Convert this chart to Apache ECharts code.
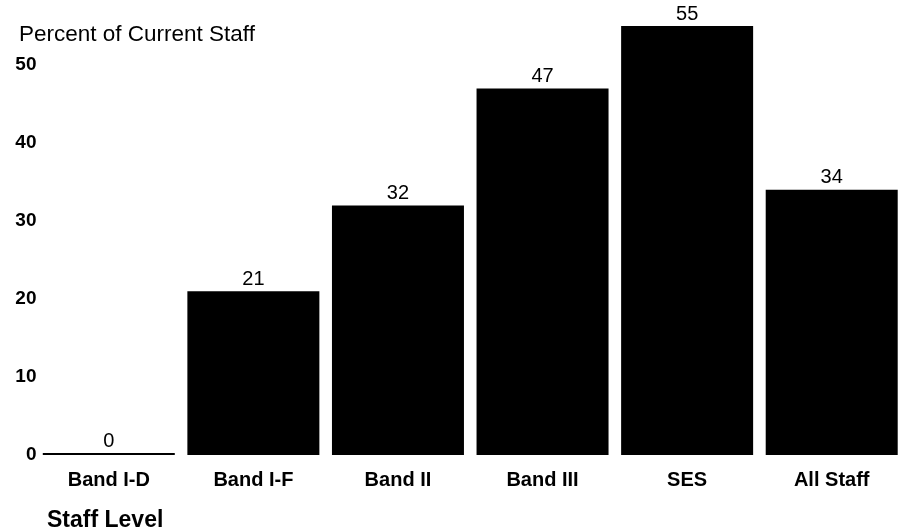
<!DOCTYPE html>
<html>
<head>
<meta charset="utf-8">
<script src="https://cdn.jsdelivr.net/npm/echarts@6/dist/echarts.min.js"></script>
<style>
  html, body { margin: 0; padding: 0; background: #fff; }
  #chart { width: 904px; height: 531px; }
</style>
</head>
<body>
<div id="chart"></div>
<script>
// 数据
const categories = ['Band I-D', 'Band I-F', 'Band II', 'Band III', 'SES', 'All Staff'];
const values = [0, 21, 32, 47, 55, 34];
const yTicks = [0, 10, 20, 30, 40, 50];

const chart = echarts.init(document.getElementById('chart'));
const font = 'Arial, "Liberation Sans", sans-serif';

const option = {
  animation: false,
  title: [
    {
      // y轴标题
      text: 'Percent of Current Staff',
      left: 14,
      top: 18,
      textStyle: { fontFamily: font, fontSize: 22.5, fontWeight: 'normal', color: '#000' }
    },
    {
      // x轴标题
      text: 'Staff Level',
      left: 42,
      top: 504,
      textStyle: { fontFamily: font, fontSize: 23, fontWeight: 'bold', color: '#000' }
    }
  ],
  grid: {
    left: 36.5,
    width: 875,
    top: 26,
    bottom: 76
  },
  xAxis: {
    type: 'category',
    data: categories,
    axisLine: { show: false },
    axisTick: { show: false },
    axisLabel: {
      margin: 15,
      fontFamily: font,
      fontSize: 20,
      fontWeight: 'bold',
      color: '#000'
    }
  },
  yAxis: {
    type: 'value',
    min: 0,
    max: 55,
    interval: 10,
    axisLine: { show: false },
    axisTick: { show: false },
    splitLine: { show: false },
    axisLabel: {
      margin: 0,
      showMaxLabel: false,
      fontFamily: font,
      fontSize: 19,
      fontWeight: 'bold',
      color: '#000',
      formatter: function (v) {
        return yTicks.indexOf(v) >= 0 ? String(v) : '';
      }
    }
  },
  series: [
    {
      type: 'bar',
      data: values,
      barWidth: 132,
      barMinHeight: 2, // 0值显示为一条线
      itemStyle: { color: '#000' },
      label: {
        show: true,
        position: 'top',
        distance: 2,
        fontFamily: font,
        fontSize: 20,
        color: '#000'
      }
    }
  ]
};

chart.setOption(option);
</script>
</body>
</html>
